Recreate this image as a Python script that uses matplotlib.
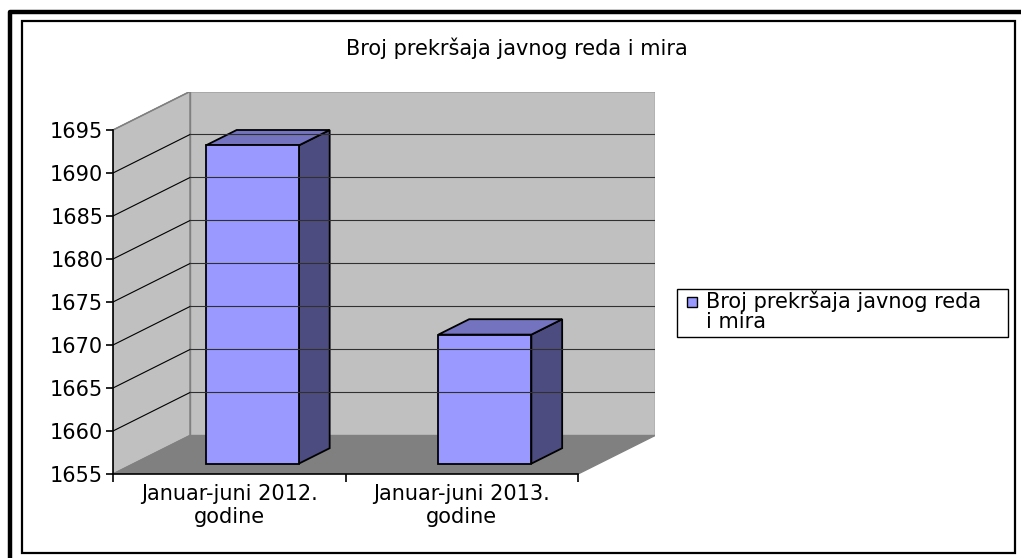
import matplotlib.pyplot as plt
from matplotlib.patches import Polygon, Rectangle

plt.rcParams['font.family'] = ['DejaVu Sans']

# podaci
kategorije = ['Januar-juni 2012.\ngodine', 'Januar-juni 2013.\ngodine']
vrijednosti = [1692, 1670]
naslov = 'Broj prekršaja javnog reda i mira'
serija = 'Broj prekršaja javnog reda\ni mira'
y_min, y_max, y_korak = 1655, 1695, 5
fs = 15

W, H = 1021, 558
fig = plt.figure(figsize=(W / 100, H / 100), dpi=100)

# okviri (pikseli -> udio slike)
def px(x, y):
    return x / W, 1 - y / H

fig.add_artist(plt.Line2D([10 / W, 10 / W, 1], [0, 1 - 12 / H, 1 - 12 / H], color='black', lw=3.2))
fig.add_artist(Rectangle(px(22, 553), (1015 - 22) / W, (553 - 21) / H, fill=False, ec='black', lw=1.6,
                         transform=fig.transFigure))

# osi: prednja ivica od x=113 do 578 px, dubina 77 px desno i 38.5 px gore
l, b = px(113, 474)
r, t = px(655, 91.5)
ax = fig.add_axes([l, b, r - l, t - b])
n = len(vrijednosti)
px_x = (578 - 113) / n
px_y = (474 - 130) / (y_max - y_min)
ddx = 77 / px_x
ddy = 38.5 / px_y
ax.set_xlim(0, n + ddx)
ax.set_ylim(y_min, y_max + ddy)

siva = '#c0c0c0'
tamna = '#808080'
# lijevi zid, pod, zadnji zid
ax.add_patch(Polygon([(0, y_min), (ddx, y_min + ddy), (ddx, y_max + ddy), (0, y_max)], fc=siva, ec=tamna, lw=1))
ax.add_patch(Polygon([(0, y_min), (n, y_min), (n + ddx, y_min + ddy), (ddx, y_min + ddy)], fc=tamna, ec=tamna, lw=1))
ax.add_patch(Rectangle((ddx, y_min + ddy), n, y_max - y_min, fc=siva, ec=tamna, lw=1))

tickovi = list(range(y_min, y_max + 1, y_korak))
for v in tickovi[1:-1]:
    ax.plot([0, ddx], [v, v + ddy], color='black', lw=0.8)
    ax.plot([ddx, n + ddx], [v + ddy, v + ddy], color='#303030', lw=0.8)
ax.plot([0, ddx], [y_max, y_max + ddy], color=tamna, lw=1)
ax.plot([ddx, n + ddx], [y_max + ddy, y_max + ddy], color=tamna, lw=1)

# stubovi
sirina = 0.2
d0, d1 = 0.27, 0.67
for i, v in enumerate(vrijednosti):
    x0 = i + 0.51 - sirina + d0 * ddx
    x1 = i + 0.51 + sirina + d0 * ddx
    y0 = y_min + d0 * ddy
    y1 = v + d0 * ddy
    ox = (d1 - d0) * ddx
    oy = (d1 - d0) * ddy
    ax.add_patch(Polygon([(x1, y0), (x1 + ox, y0 + oy), (x1 + ox, y1 + oy), (x1, y1)],
                         fc='#4c4c80', ec='black', lw=1.3))
    ax.add_patch(Polygon([(x0, y1), (x1, y1), (x1 + ox, y1 + oy), (x0 + ox, y1 + oy)],
                         fc='#7373bf', ec='black', lw=1.3))
    ax.add_patch(Rectangle((x0, y0), x1 - x0, y1 - y0, fc='#9999ff', ec='black', lw=1.3))

# ose
for s in ['top', 'right']:
    ax.spines[s].set_visible(False)
ax.spines['left'].set_bounds(y_min, y_max)
ax.spines['bottom'].set_bounds(0, n)
ax.spines['left'].set_linewidth(1.2)
ax.spines['bottom'].set_linewidth(1.2)
ax.set_yticks(tickovi)
ax.tick_params(axis='y', labelsize=fs, length=5, width=1.2, pad=2)
ax.set_xticks(range(n + 1))
ax.set_xticklabels([])
ax.set_xticks([i + 0.5 for i in range(n)], minor=True)
ax.set_xticklabels(kategorije, minor=True, fontsize=fs, linespacing=1.2)
ax.tick_params(axis='x', which='major', length=6, width=1.2)
ax.tick_params(axis='x', which='minor', length=0, pad=7)

fig.text(517 / W, 1 - 48 / H, naslov, fontsize=fs, ha='center', va='center')

# legenda
fig.add_artist(Rectangle(px(677, 337), (1008 - 677) / W, (337 - 289) / H, fill=False, ec='black', lw=1,
                         transform=fig.transFigure))
fig.add_artist(Rectangle(px(687, 307), 10 / W, 10 / H, fc='#9999ff', ec='black', lw=1,
                         transform=fig.transFigure))
fig.text(706 / W, 1 - 291 / H, serija, fontsize=fs, ha='left', va='top', linespacing=1.0)

fig.savefig('out.png', dpi=100)
